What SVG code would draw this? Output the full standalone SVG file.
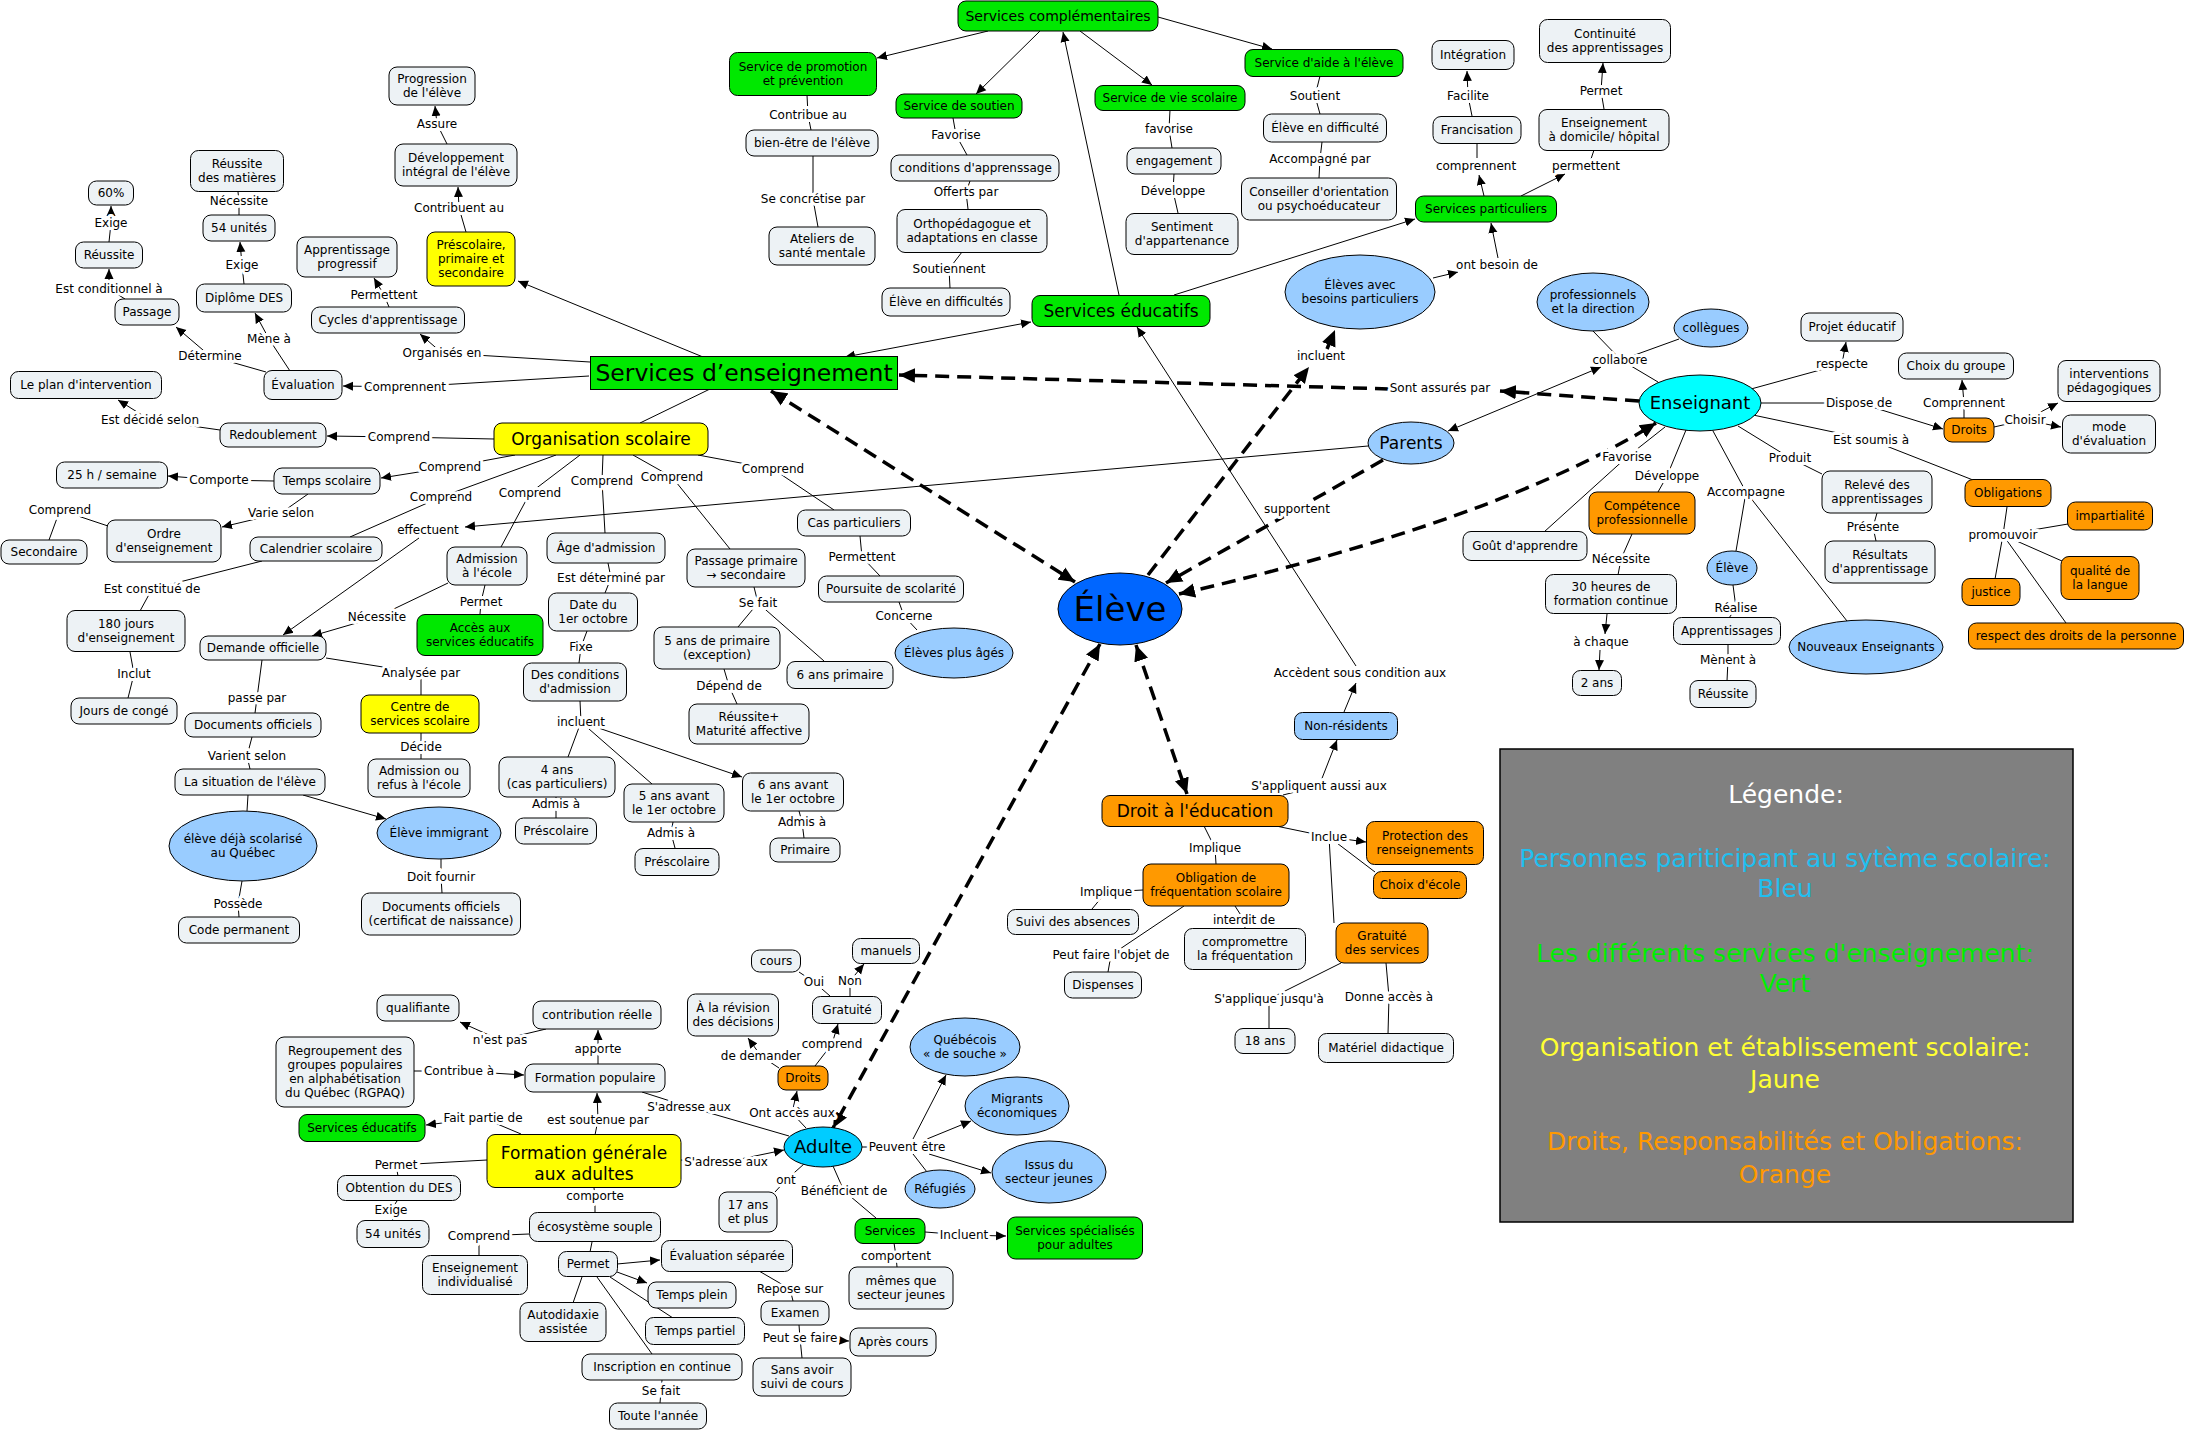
<svg xmlns="http://www.w3.org/2000/svg" width="2188" height="1431" viewBox="0 0 2188 1431">
<style>
text{font-family:"DejaVu Sans",Verdana,"Liberation Sans",sans-serif;font-size:12px;text-anchor:middle;fill:#000}
.c,.g,.y,.o,.lbx{stroke:#000;stroke-width:1;rx:8px;ry:8px}
.c{fill:#edf2f5}
.g{fill:#00e800}
.y{fill:#ffff00}
.o{fill:#ff9900}
.lbx{fill:#99ccff}
.b{fill:#99ccff;stroke:#000;stroke-width:1}
.ln{fill:none;stroke:#000;stroke-width:1}
.a{marker-end:url(#ah)}
.s{marker-start:url(#ah)}
.dl{fill:none;stroke:#000;stroke-width:3.5;stroke-dasharray:14 8}
.de{marker-end:url(#dh)}
.ds{marker-start:url(#dh)}
.lb text{stroke:#fff;stroke-width:6px;paint-order:stroke;stroke-linejoin:round}
.f14{font-size:14px}.f17{font-size:17px}.f18{font-size:18px}.f23{font-size:23.5px}.f34{font-size:34px}
.leg text{font-size:25px}
</style>
<defs>
<marker id="ah" viewBox="0 0 10 10" refX="10" refY="5" markerWidth="10" markerHeight="10" markerUnits="userSpaceOnUse" orient="auto-start-reverse"><path d="M0,0.5L10,5L0,9.5z" fill="#000"/></marker>
<marker id="dh" viewBox="0 0 10 10" refX="10" refY="5" markerWidth="16" markerHeight="16" markerUnits="userSpaceOnUse" orient="auto-start-reverse"><path d="M0,0.5L10,5L0,9.5z" fill="#000"/></marker>
</defs>
<rect width="2188" height="1431" fill="#fff"/>
<g id="connectors">
<path class="ln" d="M239,215L239,201L238,192M710,389L640,423M108,526L60,510L49,540M556,455L441,497L350,537M262,561L152,589L140,611M130,652L134,674L128,698M580,455L530,493L501,547M485,585L481,602L480,614M603,455L602,481L605,533M608,563L611,578L605,593M587,631L581,647L579,663M580,701L581,722L568,757M581,722L652,784M556,797L556,818M673,822L671,833L675,848M799,811L802,822L804,838M633,455L672,477L730,549M754,587L758,603L738,627M758,603L824,661M724,669L729,686L737,704M698,455L773,469L834,510M860,536L862,557L880,576M899,602L904,616L917,630M326,658L421,673L421,695M421,733L421,759M262,660L257,698L255,713M252,737L247,756L250,769M248,795L247,811M242,881L238,904L239,917M441,859L441,877L442,893"/>
<path class="ln" d="M1204,826L1215,848L1216,864M1329,837L1375,872M1329,837L1334,923M1143,890L1106,892L1092,909M1184,906L1111,955L1108,972M1235,906L1244,920L1245,928M1341,963L1269,999L1269,1028M1386,963L1389,997L1388,1034M807,95L808,115L811,130M813,156L813,199L818,227M953,118L956,135L967,155M970,181L966,192L968,209M962,252L949,269L950,288M1170,110L1169,129L1172,148M1174,174L1173,191L1178,213M1320,76L1315,96L1320,114M1322,142L1320,159L1319,178M1477,158L1477,143M1591,159L1594,150M1658,382L1621,360L1593,331M1621,360L1679,339M1753,415L1871,440L1973,480M2007,507L2003,535L2068,524M2003,535L2062,561M2003,535L1995,579M2003,535L2066,623M1738,426L1790,458L1822,474M1877,513L1873,527L1876,541M1665,427L1627,457L1544,532M1686,430L1667,476L1658,492M1632,534L1621,559L1618,575M1713,431L1746,492L1736,551M1746,492L1847,621M1733,585L1736,608L1729,618M1728,645L1728,660L1727,681"/>
<path class="ln" d="M830,996L814,982L799,972M642,1092L689,1107L789,1136M862,1147L907,1147M913,1154L927,1172M804,1164L786,1180L775,1192M833,1166L844,1191L876,1218M894,1243L896,1256L897,1267M487,1160L396,1165L398,1176M397,1201L391,1210L393,1221M594,1188L595,1196L595,1213M529,1234L479,1236L479,1256M592,1242L590,1252M610,1277L673,1318M582,1277L573,1303M597,1277L652,1354M662,1380L661,1391L660,1403M759,1271L790,1289L793,1301M800,1338L802,1358"/>
<path class="ln a" d="M703,357L518,281"/>
<path class="ln a" d="M590,362L442,353L420,334"/>
<path class="ln a" d="M589,376L405,387L343,386"/>
<path class="ln a" d="M266,372L210,356L176,327"/>
<path class="ln a" d="M290,371L269,339L255,313"/>
<path class="ln a" d="M125,299L109,289L109,269"/>
<path class="ln a" d="M109,242L111,223L111,206"/>
<path class="ln a" d="M244,284L242,265L240,242"/>
<path class="ln a" d="M466,232L459,208L458,187"/>
<path class="ln a" d="M447,144L437,124L435,106"/>
<path class="ln a" d="M389,307L384,295L374,278"/>
<path class="ln a" d="M494,439L399,437L327,436"/>
<path class="ln a" d="M220,430L150,420L118,400"/>
<path class="ln a" d="M515,455L450,467L381,478"/>
<path class="ln a" d="M274,481L219,480L168,476"/>
<path class="ln a" d="M308,494L281,513L222,527"/>
<path class="ln a" d="M448,583L377,617L312,636"/>
<path class="ln a" d="M1368,446L465,527"/>
<path class="ln a" d="M419,538L283,635"/>
<path class="ln a" d="M581,722L742,777"/>
<path class="ln a" d="M303,795L386,819"/>
<path class="ln a" d="M1344,712L1356,683"/>
<path class="ln a" d="M1356,666L1137,327"/>
<path class="ln a" d="M1283,795L1319,786L1337,740"/>
<path class="ln a" d="M1276,826L1329,837L1366,842"/>
<path class="ln a" d="M988,31L877,58"/>
<path class="ln a" d="M1040,31L976,94"/>
<path class="ln a" d="M1080,31L1152,85"/>
<path class="ln a" d="M1158,17L1272,49"/>
<path class="ln a" d="M1119,295L1063,32"/>
<path class="ln a s" d="M845,357L1031,322"/>
<path class="ln a" d="M1174,295L1415,219"/>
<path class="ln a" d="M1484,196L1479,175"/>
<path class="ln a" d="M1472,116L1468,96L1467,71"/>
<path class="ln a" d="M1521,196L1565,174"/>
<path class="ln a" d="M1604,109L1601,91L1603,63"/>
<path class="ln a" d="M1433,278L1458,272"/>
<path class="ln a" d="M1498,258L1491,223"/>
<path class="ln a s" d="M1448,431L1601,367"/>
<path class="ln a" d="M1751,389L1842,364L1846,342"/>
<path class="ln a" d="M1761,403L1859,403L1943,429"/>
<path class="ln a" d="M1964,418L1964,403L1962,380"/>
<path class="ln a" d="M1994,427L2025,420L2058,403"/>
<path class="ln a" d="M2025,420L2061,427"/>
<path class="ln a" d="M1607,614L1605,634"/>
<path class="ln a" d="M1600,650L1599,670"/>
<path class="ln a" d="M806,1128L792,1113L797,1091"/>
<path class="ln a" d="M779,1068L761,1056L748,1038"/>
<path class="ln a" d="M815,1066L832,1044L838,1024"/>
<path class="ln a" d="M850,996L850,981L864,964"/>
<path class="ln a" d="M681,1160L726,1162L784,1150"/>
<path class="ln a" d="M913,1139L946,1075"/>
<path class="ln a" d="M927,1139L971,1121"/>
<path class="ln a" d="M929,1154L991,1173"/>
<path class="ln a" d="M925,1232L964,1235L1006,1236"/>
<path class="ln a" d="M521,1134L483,1118L426,1125"/>
<path class="ln a" d="M595,1135L598,1120L597,1093"/>
<path class="ln a" d="M598,1064L598,1049L598,1030"/>
<path class="ln a" d="M546,1029L500,1040L460,1022"/>
<path class="ln a" d="M414,1071L459,1071L524,1075"/>
<path class="ln a" d="M617,1264L660,1260"/>
<path class="ln a" d="M617,1272L647,1283"/>
<path class="ln a" d="M799,1325L800,1338L849,1341"/>
<path class="dl de ds" d="M771,391L1075,582"/>
<path class="dl de" d="M1148,575L1309,367"/>
<path class="dl de" d="M1327,349L1335,330"/>
<path class="dl de" d="M1639,401L1500,391"/>
<path class="dl de" d="M1389,389L899,375"/>
<path class="dl de" d="M1383,460L1297,509L1166,583"/>
<path class="dl de ds" d="M1179,594Q1500,520 1656,423"/>
<path class="dl de ds" d="M1136,645L1187,794"/>
<path class="dl de ds" d="M1100,644L833,1128"/>
</g>
<g id="labels" class="lb">
<text x="437" y="128">Assure</text>
<text x="459" y="212">Contribuent au</text>
<text x="384" y="299">Permettent</text>
<text x="442" y="357">Organisés en</text>
<text x="239" y="205">Nécessite</text>
<text x="242" y="269">Exige</text>
<text x="269" y="343">Mène à</text>
<text x="111" y="227">Exige</text>
<text x="109" y="293">Est conditionnel à</text>
<text x="210" y="360">Détermine</text>
<text x="405" y="391">Comprennent</text>
<text x="150" y="424">Est décidé selon</text>
<text x="399" y="441">Comprend</text>
<text x="450" y="471">Comprend</text>
<text x="219" y="484">Comporte</text>
<text x="281" y="517">Varie selon</text>
<text x="60" y="514">Comprend</text>
<text x="441" y="501">Comprend</text>
<text x="530" y="497">Comprend</text>
<text x="602" y="485">Comprend</text>
<text x="672" y="481">Comprend</text>
<text x="773" y="473">Comprend</text>
<text x="428" y="534">effectuent</text>
<text x="152" y="593">Est constitué de</text>
<text x="377" y="621">Nécessite</text>
<text x="481" y="606">Permet</text>
<text x="611" y="582">Est déterminé par</text>
<text x="581" y="651">Fixe</text>
<text x="134" y="678">Inclut</text>
<text x="421" y="677">Analysée par</text>
<text x="257" y="702">passe par</text>
<text x="247" y="760">Varient selon</text>
<text x="421" y="751">Décide</text>
<text x="581" y="726">incluent</text>
<text x="556" y="808">Admis à</text>
<text x="671" y="837">Admis à</text>
<text x="802" y="826">Admis à</text>
<text x="238" y="908">Possède</text>
<text x="441" y="881">Doit fournir</text>
<text x="758" y="607">Se fait</text>
<text x="729" y="690">Dépend de</text>
<text x="862" y="561">Permettent</text>
<text x="904" y="620">Concerne</text>
<text x="808" y="119">Contribue au</text>
<text x="813" y="203">Se concrétise par</text>
<text x="956" y="139">Favorise</text>
<text x="966" y="196">Offerts par</text>
<text x="949" y="273">Soutiennent</text>
<text x="1169" y="133">favorise</text>
<text x="1173" y="195">Développe</text>
<text x="1315" y="100">Soutient</text>
<text x="1320" y="163">Accompagné par</text>
<text x="1468" y="100">Facilite</text>
<text x="1476" y="170">comprennent</text>
<text x="1601" y="95">Permet</text>
<text x="1586" y="170">permettent</text>
<text x="1497" y="269">ont besoin de</text>
<text x="1321" y="360">incluent</text>
<text x="1620" y="364">collabore</text>
<text x="1842" y="368">respecte</text>
<text x="1440" y="392">Sont assurés par</text>
<text x="1859" y="407">Dispose de</text>
<text x="1964" y="407">Comprennent</text>
<text x="2025" y="424">Choisir</text>
<text x="1871" y="444">Est soumis à</text>
<text x="1627" y="461">Favorise</text>
<text x="1667" y="480">Développe</text>
<text x="1790" y="462">Produit</text>
<text x="1746" y="496">Accompagne</text>
<text x="2003" y="539">promouvoir</text>
<text x="1873" y="531">Présente</text>
<text x="1621" y="563">Nécessite</text>
<text x="1736" y="612">Réalise</text>
<text x="1601" y="646">à chaque</text>
<text x="1728" y="664">Mènent à</text>
<text x="1297" y="513">supportent</text>
<text x="1360" y="677">Accèdent sous condition aux</text>
<text x="1319" y="790">S'appliquent aussi aux</text>
<text x="1215" y="852">Implique</text>
<text x="1329" y="841">Inclue</text>
<text x="1106" y="896">Implique</text>
<text x="1244" y="924">interdit de</text>
<text x="1111" y="959">Peut faire l'objet de</text>
<text x="1269" y="1003">S'applique jusqu'à</text>
<text x="1389" y="1001">Donne accès à</text>
<text x="814" y="986">Oui</text>
<text x="850" y="985">Non</text>
<text x="832" y="1048">comprend</text>
<text x="761" y="1060">de demander</text>
<text x="500" y="1044">n'est pas</text>
<text x="598" y="1053">apporte</text>
<text x="459" y="1075">Contribue à</text>
<text x="689" y="1111">S'adresse aux</text>
<text x="483" y="1122">Fait partie de</text>
<text x="598" y="1124">est soutenue par</text>
<text x="792" y="1117">Ont accès aux</text>
<text x="726" y="1166">S'adresse aux</text>
<text x="396" y="1169">Permet</text>
<text x="907" y="1151">Peuvent être</text>
<text x="786" y="1184">ont</text>
<text x="844" y="1195">Bénéficient de</text>
<text x="595" y="1200">comporte</text>
<text x="391" y="1214">Exige</text>
<text x="964" y="1239">Incluent</text>
<text x="479" y="1240">Comprend</text>
<text x="896" y="1260">comportent</text>
<text x="790" y="1293">Repose sur</text>
<text x="800" y="1342">Peut se faire</text>
<text x="661" y="1395">Se fait</text>
</g>
<g id="n-progression" transform="translate(432,86)"><rect class="c" x="-43" y="-19" width="86" height="38"/><text><tspan x="0" y="-3">Progression</tspan><tspan x="0" y="11">de l'élève</tspan></text></g>
<g id="n-devint" transform="translate(456,165)"><rect class="c" x="-61" y="-21" width="122" height="42"/><text><tspan x="0" y="-3">Développement</tspan><tspan x="0" y="11">intégral de l'élève</tspan></text></g>
<g id="n-prescolaire" transform="translate(471,259)"><rect class="y" x="-44" y="-27" width="88" height="54"/><text><tspan x="0" y="-10">Préscolaire,</tspan><tspan x="0" y="4">primaire et</tspan><tspan x="0" y="18">secondaire</tspan></text></g>
<g id="n-apprprog" transform="translate(347,257)"><rect class="c" x="-50" y="-20" width="100" height="40"/><text><tspan x="0" y="-3">Apprentissage</tspan><tspan x="0" y="11">progressif</tspan></text></g>
<g id="n-cycles" transform="translate(388,320)"><rect class="c" x="-76.5" y="-13" width="153" height="26"/><text y="4">Cycles d'apprentissage</text></g>
<g id="n-reussmat" transform="translate(237,171)"><rect class="c" x="-46.5" y="-20.5" width="93" height="41"/><text><tspan x="0" y="-3">Réussite</tspan><tspan x="0" y="11">des matières</tspan></text></g>
<g id="n-54a" transform="translate(239,228)"><rect class="c" x="-36" y="-13" width="72" height="26"/><text y="4">54 unités</text></g>
<g id="n-diplome" transform="translate(244,298)"><rect class="c" x="-47.5" y="-14" width="95" height="28"/><text y="4">Diplôme DES</text></g>
<g id="n-60" transform="translate(111,193)"><rect class="c" x="-22.5" y="-12" width="45" height="24"/><text y="4">60%</text></g>
<g id="n-reussite1" transform="translate(109,255)"><rect class="c" x="-33.5" y="-13" width="67" height="26"/><text y="4">Réussite</text></g>
<g id="n-passage" transform="translate(147,312)"><rect class="c" x="-32" y="-13" width="64" height="26"/><text y="4">Passage</text></g>
<g id="n-evaluation" transform="translate(303,385)"><rect class="c" x="-39" y="-14.5" width="78" height="29"/><text y="4">Évaluation</text></g>
<g id="n-plan" transform="translate(86,385)"><rect class="c" x="-75.5" y="-13.5" width="151" height="27"/><text y="4">Le plan d'intervention</text></g>
<g id="n-redoublement" transform="translate(273,435)"><rect class="c" x="-53" y="-12" width="106" height="24"/><text y="4">Redoublement</text></g>
<g id="n-services-enseignement" transform="translate(744,373)"><rect x="-153.5" y="-16.5" width="307" height="33" fill="#00e800" stroke="#000"/><text class="f23" y="8">Services d’enseignement</text></g>
<g id="n-organisation" transform="translate(601,439)"><rect class="y" x="-107" y="-16" width="214" height="32"/><text class="f17" y="6">Organisation scolaire</text></g>
<g id="n-25h" transform="translate(112,475)"><rect class="c" x="-55.5" y="-13" width="111" height="26"/><text y="4">25 h / semaine</text></g>
<g id="n-temps" transform="translate(327,481)"><rect class="c" x="-53" y="-13" width="106" height="26"/><text y="4">Temps scolaire</text></g>
<g id="n-ordre" transform="translate(164,541)"><rect class="c" x="-57" y="-21" width="114" height="42"/><text><tspan x="0" y="-3">Ordre</tspan><tspan x="0" y="11">d'enseignement</tspan></text></g>
<g id="n-secondaire" transform="translate(44,552)"><rect class="c" x="-43" y="-12" width="86" height="24"/><text y="4">Secondaire</text></g>
<g id="n-calendrier" transform="translate(316,549)"><rect class="c" x="-66" y="-12" width="132" height="24"/><text y="4">Calendrier scolaire</text></g>
<g id="n-admission" transform="translate(487,566)"><rect class="c" x="-40" y="-19" width="80" height="38"/><text><tspan x="0" y="-3">Admission</tspan><tspan x="0" y="11">à l'école</tspan></text></g>
<g id="n-age" transform="translate(606,548)"><rect class="c" x="-59" y="-15" width="118" height="30"/><text y="4">Âge d'admission</text></g>
<g id="n-180" transform="translate(126,631)"><rect class="c" x="-59" y="-20.5" width="118" height="41"/><text><tspan x="0" y="-3">180 jours</tspan><tspan x="0" y="11">d'enseignement</tspan></text></g>
<g id="n-acces" transform="translate(480,635)"><rect class="g" x="-63" y="-20.5" width="126" height="41"/><text><tspan x="0" y="-3">Accès aux</tspan><tspan x="0" y="11">services éducatifs</tspan></text></g>
<g id="n-date" transform="translate(593,612)"><rect class="c" x="-44.5" y="-19" width="89" height="38"/><text><tspan x="0" y="-3">Date du</tspan><tspan x="0" y="11">1er octobre</tspan></text></g>
<g id="n-demande" transform="translate(263,648)"><rect class="c" x="-63" y="-12" width="126" height="24"/><text y="4">Demande officielle</text></g>
<g id="n-conges" transform="translate(124,711)"><rect class="c" x="-53" y="-13" width="106" height="26"/><text y="4">Jours de congé</text></g>
<g id="n-conditions" transform="translate(575,682)"><rect class="c" x="-51.5" y="-19" width="103" height="38"/><text><tspan x="0" y="-3">Des conditions</tspan><tspan x="0" y="11">d'admission</tspan></text></g>
<g id="n-centre" transform="translate(420,714)"><rect class="y" x="-59" y="-19" width="118" height="38"/><text><tspan x="0" y="-3">Centre de</tspan><tspan x="0" y="11">services scolaire</tspan></text></g>
<g id="n-docs" transform="translate(253,725)"><rect class="c" x="-68" y="-12" width="136" height="24"/><text y="4">Documents officiels</text></g>
<g id="n-admref" transform="translate(419,778)"><rect class="c" x="-51" y="-19" width="102" height="38"/><text><tspan x="0" y="-3">Admission ou</tspan><tspan x="0" y="11">refus à l'école</tspan></text></g>
<g id="n-situation" transform="translate(250,782)"><rect class="c" x="-75" y="-13" width="150" height="26"/><text y="4">La situation de l'élève</text></g>
<g id="n-4ans" transform="translate(557,777)"><rect class="c" x="-58" y="-20" width="116" height="40"/><text><tspan x="0" y="-3">4 ans</tspan><tspan x="0" y="11">(cas particuliers)</tspan></text></g>
<g id="n-presco1" transform="translate(556,831)"><rect class="c" x="-40.5" y="-13" width="81" height="26"/><text y="4">Préscolaire</text></g>
<g id="n-5avant" transform="translate(674,803)"><rect class="c" x="-50" y="-19" width="100" height="38"/><text><tspan x="0" y="-3">5 ans avant</tspan><tspan x="0" y="11">le 1er octobre</tspan></text></g>
<g id="n-presco2" transform="translate(677,862)"><rect class="c" x="-42" y="-13.5" width="84" height="27"/><text y="4">Préscolaire</text></g>
<g id="n-6avant" transform="translate(793,792)"><rect class="c" x="-50.5" y="-19" width="101" height="38"/><text><tspan x="0" y="-3">6 ans avant</tspan><tspan x="0" y="11">le 1er octobre</tspan></text></g>
<g id="n-primaire" transform="translate(805,850)"><rect class="c" x="-35" y="-12" width="70" height="24"/><text y="4">Primaire</text></g>
<g id="n-dejascol" transform="translate(243,846)"><ellipse class="b" rx="74" ry="35"/><text><tspan x="0" y="-3">élève déjà scolarisé</tspan><tspan x="0" y="11">au Québec</tspan></text></g>
<g id="n-immigrant" transform="translate(439,833)"><ellipse class="b" rx="62" ry="26"/><text y="4">Élève immigrant</text></g>
<g id="n-code" transform="translate(239,930)"><rect class="c" x="-60.5" y="-13" width="121" height="26"/><text y="4">Code permanent</text></g>
<g id="n-docs2" transform="translate(441,914)"><rect class="c" x="-79.5" y="-21" width="159" height="42"/><text><tspan x="0" y="-3">Documents officiels</tspan><tspan x="0" y="11">(certificat de naissance)</tspan></text></g>
<g id="n-passprim" transform="translate(746,568)"><rect class="c" x="-59" y="-19" width="118" height="38"/><text><tspan x="0" y="-3">Passage primaire</tspan><tspan x="0" y="11">→ secondaire</tspan></text></g>
<g id="n-5prim" transform="translate(717,648)"><rect class="c" x="-63" y="-21" width="126" height="42"/><text><tspan x="0" y="-3">5 ans de primaire</tspan><tspan x="0" y="11">(exception)</tspan></text></g>
<g id="n-6prim" transform="translate(840,675)"><rect class="c" x="-53" y="-13.5" width="106" height="27"/><text y="4">6 ans primaire</text></g>
<g id="n-maturite" transform="translate(749,724)"><rect class="c" x="-60" y="-20" width="120" height="40"/><text><tspan x="0" y="-3">Réussite+</tspan><tspan x="0" y="11">Maturité affective</tspan></text></g>
<g id="n-cas" transform="translate(854,523)"><rect class="c" x="-56.5" y="-13" width="113" height="26"/><text y="4">Cas particuliers</text></g>
<g id="n-poursuite" transform="translate(891,589)"><rect class="c" x="-72.5" y="-13" width="145" height="26"/><text y="4">Poursuite de scolarité</text></g>
<g id="n-plusages" transform="translate(954,653)"><ellipse class="b" rx="59" ry="25"/><text y="4">Élèves plus âgés</text></g>
<g id="n-eleve" transform="translate(1120,609)"><ellipse rx="62" ry="36" fill="#0066ff" stroke="#000"/><text class="f34" y="12">Élève</text></g>
<g id="n-scomp" transform="translate(1058,16)"><rect class="g" x="-100" y="-15" width="200" height="30"/><text class="f14" y="5">Services complémentaires</text></g>
<g id="n-promo" transform="translate(803,74)"><rect class="g" x="-73.5" y="-21.5" width="147" height="43"/><text><tspan x="0" y="-3">Service de promotion</tspan><tspan x="0" y="11">et prévention</tspan></text></g>
<g id="n-soutien" transform="translate(959,106)"><rect class="g" x="-63" y="-12" width="126" height="24"/><text y="4">Service de soutien</text></g>
<g id="n-bienetre" transform="translate(812,143)"><rect class="c" x="-66" y="-13" width="132" height="26"/><text y="4">bien-être de l'élève</text></g>
<g id="n-condapp" transform="translate(975,168)"><rect class="c" x="-84" y="-13" width="168" height="26"/><text y="4">conditions d'apprenssage</text></g>
<g id="n-ortho" transform="translate(972,231)"><rect class="c" x="-75" y="-21.5" width="150" height="43"/><text><tspan x="0" y="-3">Orthopédagogue et</tspan><tspan x="0" y="11">adaptations en classe</tspan></text></g>
<g id="n-ateliers" transform="translate(822,246)"><rect class="c" x="-53" y="-19" width="106" height="38"/><text><tspan x="0" y="-3">Ateliers de</tspan><tspan x="0" y="11">santé mentale</tspan></text></g>
<g id="n-elevdiffs" transform="translate(946,302)"><rect class="c" x="-64" y="-14" width="128" height="28"/><text y="4">Élève en difficultés</text></g>
<g id="n-seduc" transform="translate(1121,311)"><rect class="g" x="-89" y="-15.5" width="178" height="31"/><text class="f17" y="6">Services éducatifs</text></g>
<g id="n-viesco" transform="translate(1170,98)"><rect class="g" x="-75" y="-12.5" width="150" height="25"/><text y="4">Service de vie scolaire</text></g>
<g id="n-engagement" transform="translate(1174,161)"><rect class="c" x="-47" y="-13" width="94" height="26"/><text y="4">engagement</text></g>
<g id="n-sentiment" transform="translate(1182,234)"><rect class="c" x="-56" y="-20.5" width="112" height="41"/><text><tspan x="0" y="-3">Sentiment</tspan><tspan x="0" y="11">d'appartenance</tspan></text></g>
<g id="n-aide" transform="translate(1324,63)"><rect class="g" x="-79" y="-13.5" width="158" height="27"/><text y="4">Service d'aide à l'élève</text></g>
<g id="n-elevdiff" transform="translate(1325,128)"><rect class="c" x="-61.5" y="-14" width="123" height="28"/><text y="4">Élève en difficulté</text></g>
<g id="n-conseiller" transform="translate(1319,199)"><rect class="c" x="-77.5" y="-21" width="155" height="42"/><text><tspan x="0" y="-3">Conseiller d'orientation</tspan><tspan x="0" y="11">ou psychoéducateur</tspan></text></g>
<g id="n-besoins" transform="translate(1360,292)"><ellipse class="b" rx="75" ry="37"/><text><tspan x="0" y="-3">Élèves avec</tspan><tspan x="0" y="11">besoins particuliers</tspan></text></g>
<g id="n-integration" transform="translate(1473,55)"><rect class="c" x="-41" y="-14.5" width="82" height="29"/><text y="4">Intégration</text></g>
<g id="n-francisation" transform="translate(1477,130)"><rect class="c" x="-44" y="-13.5" width="88" height="27"/><text y="4">Francisation</text></g>
<g id="n-spart" transform="translate(1486,209)"><rect class="g" x="-70.5" y="-13" width="141" height="26"/><text y="4">Services particuliers</text></g>
<g id="n-continuite" transform="translate(1605,41)"><rect class="c" x="-65.5" y="-21.5" width="131" height="43"/><text><tspan x="0" y="-3">Continuité</tspan><tspan x="0" y="11">des apprentissages</tspan></text></g>
<g id="n-domicile" transform="translate(1604,130)"><rect class="c" x="-65" y="-20.5" width="130" height="41"/><text><tspan x="0" y="-3">Enseignement</tspan><tspan x="0" y="11">à domicile/ hôpital</tspan></text></g>
<g id="n-prof" transform="translate(1593,302)"><ellipse class="b" rx="56" ry="29"/><text><tspan x="0" y="-3">professionnels</tspan><tspan x="0" y="11">et la direction</tspan></text></g>
<g id="n-collegues" transform="translate(1711,328)"><ellipse class="b" rx="37" ry="19"/><text y="4">collègues</text></g>
<g id="n-projet" transform="translate(1852,327)"><rect class="c" x="-51" y="-14" width="102" height="28"/><text y="4">Projet éducatif</text></g>
<g id="n-choixgroupe" transform="translate(1956,366)"><rect class="c" x="-57.5" y="-13" width="115" height="26"/><text y="4">Choix du groupe</text></g>
<g id="n-enseignant" transform="translate(1700,403)"><ellipse rx="61" ry="28" fill="#00ffff" stroke="#000"/><text class="f18" y="6">Enseignant</text></g>
<g id="n-droits1" transform="translate(1969,430)"><rect class="o" x="-25" y="-12" width="50" height="24"/><text y="4">Droits</text></g>
<g id="n-interv" transform="translate(2109,381)"><rect class="c" x="-51" y="-20.5" width="102" height="41"/><text><tspan x="0" y="-3">interventions</tspan><tspan x="0" y="11">pédagogiques</tspan></text></g>
<g id="n-mode" transform="translate(2109,434)"><rect class="c" x="-46.5" y="-19" width="93" height="38"/><text><tspan x="0" y="-3">mode</tspan><tspan x="0" y="11">d'évaluation</tspan></text></g>
<g id="n-obligations" transform="translate(2008,493)"><rect class="o" x="-43" y="-13.5" width="86" height="27"/><text y="4">Obligations</text></g>
<g id="n-releve" transform="translate(1877,492)"><rect class="c" x="-55" y="-21" width="110" height="42"/><text><tspan x="0" y="-3">Relevé des</tspan><tspan x="0" y="11">apprentissages</tspan></text></g>
<g id="n-competence" transform="translate(1642,513)"><rect class="o" x="-53" y="-21" width="106" height="42"/><text><tspan x="0" y="-3">Compétence</tspan><tspan x="0" y="11">professionnelle</tspan></text></g>
<g id="n-gout" transform="translate(1525,546)"><rect class="c" x="-62" y="-14.5" width="124" height="29"/><text y="4">Goût d'apprendre</text></g>
<g id="n-impart" transform="translate(2110,516)"><rect class="o" x="-42.5" y="-14" width="85" height="28"/><text y="4">impartialité</text></g>
<g id="n-eleve2" transform="translate(1732,568)"><ellipse class="b" rx="25" ry="17"/><text y="4">Élève</text></g>
<g id="n-resultats" transform="translate(1880,562)"><rect class="c" x="-55" y="-21" width="110" height="42"/><text><tspan x="0" y="-3">Résultats</tspan><tspan x="0" y="11">d'apprentissage</tspan></text></g>
<g id="n-qualite" transform="translate(2100,578)"><rect class="o" x="-39" y="-21.5" width="78" height="43"/><text><tspan x="0" y="-3">qualité de</tspan><tspan x="0" y="11">la langue</tspan></text></g>
<g id="n-justice" transform="translate(1991,592)"><rect class="o" x="-29" y="-13.5" width="58" height="27"/><text y="4">justice</text></g>
<g id="n-30h" transform="translate(1611,594)"><rect class="c" x="-65.5" y="-19.5" width="131" height="39"/><text><tspan x="0" y="-3">30 heures de</tspan><tspan x="0" y="11">formation continue</tspan></text></g>
<g id="n-apprentissages" transform="translate(1727,631)"><rect class="c" x="-53.5" y="-13.5" width="107" height="27"/><text y="4">Apprentissages</text></g>
<g id="n-nouveaux" transform="translate(1866,647)"><ellipse class="b" rx="77" ry="27"/><text y="4">Nouveaux Enseignants</text></g>
<g id="n-respect" transform="translate(2076,636)"><rect class="o" x="-107.5" y="-13" width="215" height="26"/><text y="4">respect des droits de la personne</text></g>
<g id="n-2ans" transform="translate(1597,683)"><rect class="c" x="-24.5" y="-12.5" width="49" height="25"/><text y="4">2 ans</text></g>
<g id="n-reussite2" transform="translate(1723,694)"><rect class="c" x="-33" y="-13.5" width="66" height="27"/><text y="4">Réussite</text></g>
<g id="n-parents" transform="translate(1411,443)"><ellipse class="b" rx="43" ry="21"/><text class="f17" y="6">Parents</text></g>
<g id="n-nonres" transform="translate(1346,726)"><rect class="lbx" x="-51.5" y="-13.5" width="103" height="27"/><text y="4">Non-résidents</text></g>
<g id="n-droit" transform="translate(1195,811)"><rect class="o" x="-93" y="-15.5" width="186" height="31"/><text class="f17" y="6">Droit à l'éducation</text></g>
<g id="n-protection" transform="translate(1425,843)"><rect class="o" x="-58.5" y="-21.5" width="117" height="43"/><text><tspan x="0" y="-3">Protection des</tspan><tspan x="0" y="11">renseignements</tspan></text></g>
<g id="n-choixecole" transform="translate(1420,885)"><rect class="o" x="-46.5" y="-13.5" width="93" height="27"/><text y="4">Choix d'école</text></g>
<g id="n-obligfreq" transform="translate(1216,885)"><rect class="o" x="-73" y="-21" width="146" height="42"/><text><tspan x="0" y="-3">Obligation de</tspan><tspan x="0" y="11">fréquentation scolaire</tspan></text></g>
<g id="n-suivi" transform="translate(1073,922)"><rect class="c" x="-65.5" y="-12.5" width="131" height="25"/><text y="4">Suivi des absences</text></g>
<g id="n-compromettre" transform="translate(1245,949)"><rect class="c" x="-60.5" y="-20.5" width="121" height="41"/><text><tspan x="0" y="-3">compromettre</tspan><tspan x="0" y="11">la fréquentation</tspan></text></g>
<g id="n-gratuite1" transform="translate(1382,943)"><rect class="o" x="-46" y="-20" width="92" height="40"/><text><tspan x="0" y="-3">Gratuité</tspan><tspan x="0" y="11">des services</tspan></text></g>
<g id="n-dispenses" transform="translate(1103,985)"><rect class="c" x="-38.5" y="-13" width="77" height="26"/><text y="4">Dispenses</text></g>
<g id="n-18" transform="translate(1265,1041)"><rect class="c" x="-30" y="-12.5" width="60" height="25"/><text y="4">18 ans</text></g>
<g id="n-materiel" transform="translate(1386,1048)"><rect class="c" x="-67.5" y="-14.5" width="135" height="29"/><text y="4">Matériel didactique</text></g>
<g id="n-qualifiante" transform="translate(418,1008)"><rect class="c" x="-41" y="-13" width="82" height="26"/><text y="4">qualifiante</text></g>
<g id="n-contrib" transform="translate(597,1015)"><rect class="c" x="-64" y="-14" width="128" height="28"/><text y="4">contribution réelle</text></g>
<g id="n-rgpaq" transform="translate(345,1072)"><rect class="c" x="-69" y="-35" width="138" height="70"/><text><tspan x="0" y="-17">Regroupement des</tspan><tspan x="0" y="-3">groupes populaires</tspan><tspan x="0" y="11">en alphabétisation</tspan><tspan x="0" y="25">du Québec (RGPAQ)</tspan></text></g>
<g id="n-formpop" transform="translate(595,1078)"><rect class="c" x="-70" y="-14" width="140" height="28"/><text y="4">Formation populaire</text></g>
<g id="n-seduc2" transform="translate(362,1128)"><rect class="g" x="-63" y="-13.5" width="126" height="27"/><text y="4">Services éducatifs</text></g>
<g id="n-fga" transform="translate(584,1161)"><rect class="y" x="-97" y="-26.5" width="194" height="53"/><text class="f17"><tspan x="0" y="-2">Formation générale</tspan><tspan x="0" y="19">aux adultes</tspan></text></g>
<g id="n-obtention" transform="translate(399,1188)"><rect class="c" x="-61.5" y="-12.5" width="123" height="25"/><text y="4">Obtention du DES</text></g>
<g id="n-54b" transform="translate(393,1234)"><rect class="c" x="-36" y="-13.5" width="72" height="27"/><text y="4">54 unités</text></g>
<g id="n-ecosys" transform="translate(595,1227)"><rect class="c" x="-65.5" y="-14.5" width="131" height="29"/><text y="4">écosystème souple</text></g>
<g id="n-individ" transform="translate(475,1275)"><rect class="c" x="-52.5" y="-19.5" width="105" height="39"/><text><tspan x="0" y="-3">Enseignement</tspan><tspan x="0" y="11">individualisé</tspan></text></g>
<g id="n-permet" transform="translate(588,1264)"><rect class="c" x="-29.5" y="-12.5" width="59" height="25"/><text y="4">Permet</text></g>
<g id="n-evalsep" transform="translate(727,1256)"><rect class="c" x="-65.5" y="-15.5" width="131" height="31"/><text y="4">Évaluation séparée</text></g>
<g id="n-tplein" transform="translate(692,1295)"><rect class="c" x="-44" y="-13" width="88" height="26"/><text y="4">Temps plein</text></g>
<g id="n-autodid" transform="translate(563,1322)"><rect class="c" x="-43" y="-19.5" width="86" height="39"/><text><tspan x="0" y="-3">Autodidaxie</tspan><tspan x="0" y="11">assistée</tspan></text></g>
<g id="n-tpartiel" transform="translate(695,1331)"><rect class="c" x="-49.5" y="-13.5" width="99" height="27"/><text y="4">Temps partiel</text></g>
<g id="n-inscription" transform="translate(662,1367)"><rect class="c" x="-80" y="-13" width="160" height="26"/><text y="4">Inscription en continue</text></g>
<g id="n-annee" transform="translate(658,1416)"><rect class="c" x="-48.5" y="-13" width="97" height="26"/><text y="4">Toute l'année</text></g>
<g id="n-droits2" transform="translate(803,1078)"><rect class="o" x="-25" y="-12" width="50" height="24"/><text y="4">Droits</text></g>
<g id="n-adulte" transform="translate(823,1147)"><ellipse rx="39" ry="20" fill="#00ccff" stroke="#000"/><text class="f18" y="6">Adulte</text></g>
<g id="n-quebecois" transform="translate(965,1047)"><ellipse class="b" rx="55" ry="29"/><text><tspan x="0" y="-3">Québécois</tspan><tspan x="0" y="11">« de souche »</tspan></text></g>
<g id="n-migrants" transform="translate(1017,1106)"><ellipse class="b" rx="52" ry="29"/><text><tspan x="0" y="-3">Migrants</tspan><tspan x="0" y="11">économiques</tspan></text></g>
<g id="n-issus" transform="translate(1049,1172)"><ellipse class="b" rx="57" ry="31"/><text><tspan x="0" y="-3">Issus du</tspan><tspan x="0" y="11">secteur jeunes</tspan></text></g>
<g id="n-refugies" transform="translate(940,1189)"><ellipse class="b" rx="35" ry="19"/><text y="4">Réfugiés</text></g>
<g id="n-17" transform="translate(748,1212)"><rect class="c" x="-29" y="-20" width="58" height="40"/><text><tspan x="0" y="-3">17 ans</tspan><tspan x="0" y="11">et plus</tspan></text></g>
<g id="n-services" transform="translate(890,1231)"><rect class="g" x="-35" y="-12.5" width="70" height="25"/><text y="4">Services</text></g>
<g id="n-sspec" transform="translate(1075,1238)"><rect class="g" x="-67.5" y="-21" width="135" height="42"/><text><tspan x="0" y="-3">Services spécialisés</tspan><tspan x="0" y="11">pour adultes</tspan></text></g>
<g id="n-memes" transform="translate(901,1288)"><rect class="c" x="-52" y="-21" width="104" height="42"/><text><tspan x="0" y="-3">mêmes que</tspan><tspan x="0" y="11">secteur jeunes</tspan></text></g>
<g id="n-examen" transform="translate(795,1313)"><rect class="c" x="-34" y="-12" width="68" height="24"/><text y="4">Examen</text></g>
<g id="n-apres" transform="translate(893,1342)"><rect class="c" x="-43" y="-14" width="86" height="28"/><text y="4">Après cours</text></g>
<g id="n-sans" transform="translate(802,1377)"><rect class="c" x="-49" y="-19" width="98" height="38"/><text><tspan x="0" y="-3">Sans avoir</tspan><tspan x="0" y="11">suivi de cours</tspan></text></g>
<g id="n-manuels" transform="translate(886,951)"><rect class="c" x="-33.5" y="-12.5" width="67" height="25"/><text y="4">manuels</text></g>
<g id="n-cours" transform="translate(776,961)"><rect class="c" x="-24.5" y="-11" width="49" height="22"/><text y="4">cours</text></g>
<g id="n-gratuite2" transform="translate(847,1010)"><rect class="c" x="-34.5" y="-13.5" width="69" height="27"/><text y="4">Gratuité</text></g>
<g id="n-revision" transform="translate(733,1015)"><rect class="c" x="-45.5" y="-21" width="91" height="42"/><text><tspan x="0" y="-3">À la révision</tspan><tspan x="0" y="11">des décisions</tspan></text></g>
<g id="legend" class="leg">
<rect x="1500" y="749" width="573" height="473" fill="#808080" stroke="#000" stroke-width="1.5"/>
<text x="1786" y="803" fill="#ffffff" style="fill:#fff">Légende:</text>
<text x="1785" y="867" style="fill:#20bfef">Personnes pariticipant au sytème scolaire:</text>
<text x="1785" y="897" style="fill:#20bfef">Bleu</text>
<text x="1785" y="962" style="fill:#00ee00">Les différents services d'enseignement:</text>
<text x="1785" y="992" style="fill:#00ee00">Vert</text>
<text x="1785" y="1056" style="fill:#ffff33">Organisation et établissement scolaire:</text>
<text x="1785" y="1088" style="fill:#ffff33">Jaune</text>
<text x="1785" y="1150" style="fill:#ff9900">Droits, Responsabilités et Obligations:</text>
<text x="1785" y="1183" style="fill:#ff9900">Orange</text>
</g>
</svg>
